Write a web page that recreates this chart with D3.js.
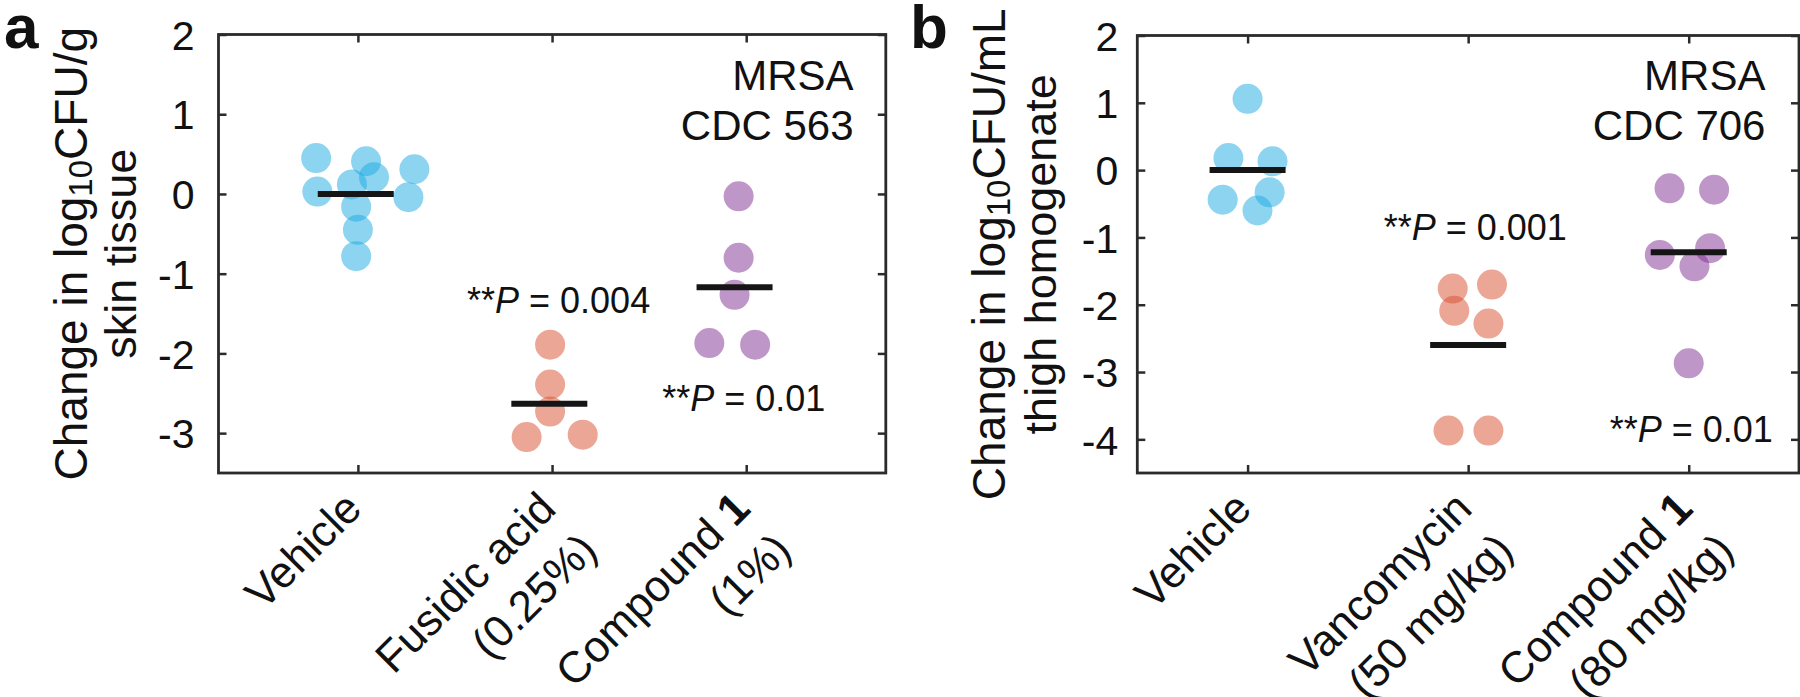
<!DOCTYPE html>
<html>
<head>
<meta charset="utf-8">
<script src="https://cdn.jsdelivr.net/npm/d3@7"></script>
<style>
  html, body { margin: 0; padding: 0; background: #fff; }
  svg { display: block; }
</style>
</head>
<body>
<svg id="chart" width="1800" height="697"></svg>
<script>
// ---------------- DATA ----------------
// Panel a: skin infection, MRSA CDC 563
const aCategories = [["Vehicle"], ["Fusidic acid", "(0.25%)"], ["Compound 1", "(1%)"]];
const aVehicle        = [0.45, 0.41, 0.31, 0.03, 0.12, 0.21, -0.04, -0.16, -0.45, -0.78];
const aVehicleJitter  = [-0.215, 0.042, 0.291, -0.209, -0.031, 0.083, 0.26, -0.009, 0, -0.009];
const aFusidic        = [-1.89, -2.39, -2.73, -3.05, -3.02];
const aFusidicJitter  = [-0.01, -0.01, -0.01, -0.131, 0.158];
const aCompound       = [-0.03, -0.80, -1.265, -1.87, -1.89];
const aCompoundJitter = [-0.039, -0.039, -0.06, -0.19, 0.046];
const aMeans          = [0, -2.63, -1.17];
const aMeanShift      = [-0.011, -0.014, -0.06];
const aYTicks         = [-3, -2, -1, 0, 1, 2];
const aPvalues        = ["0.004", "0.01"];
const aStrain         = ["MRSA", "CDC 563"];
const aYLabel         = ["Change in log", "10", "CFU/g", "skin tissue"];

// Panel b: thigh infection, MRSA CDC 706
const bCategories = [["Vehicle"], ["Vancomycin", "(50 mg/kg)"], ["Compound 1", "(80 mg/kg)"]];
const bVehicle        = [1.06, 0.18, 0.13, -0.44, -0.33, -0.60];
const bVehicleJitter  = [0, -0.087, 0.113, -0.113, 0.10, 0.045];
const bVanco          = [-1.76, -1.70, -2.09, -2.28, -3.87, -3.87];
const bVancoJitter    = [-0.07, 0.108, -0.063, 0.092, -0.089, 0.092];
const bCompound       = [-0.27, -0.29, -1.26, -1.16, -1.43, -2.87];
const bCompoundJitter = [-0.087, 0.115, -0.131, 0.097, 0.026, 0];
const bMeans          = [0, -2.60, -1.22];
const bMeanShift      = [0, 0, 0];
const bYTicks         = [-4, -3, -2, -1, 0, 1, 2];
const bPvalues        = ["0.001", "0.01"];
const bStrain         = ["MRSA", "CDC 706"];
const bYLabel         = ["Change in log", "10", "CFU/mL", "thigh homogenate"];

// ---------------- STYLE ----------------
const FONT = "'Liberation Sans', Arial, Helvetica, sans-serif";
const groupColors = ["rgb(27,170,225)", "rgb(215,78,45)", "rgb(128,45,145)"];
const dotOpacity = 0.5;
const dotR = 15;
const frameColor = "#2b2b2b";

const svg = d3.select("#chart");
svg.append("rect").attr("width", 1800).attr("height", 697).attr("fill", "#fff");

function drawPanel(cfg) {
  const g = svg.append("g");
  const x = d3.scaleLinear().domain(cfg.xDomain).range([cfg.left, cfg.right]);
  const y = d3.scaleLinear().domain(cfg.yDomain).range([cfg.bottom, cfg.top]);
  const cats = [1, 2, 3];

  // axes (ticks inward on all four sides)
  const axL = g.append("g").attr("transform", `translate(${cfg.left},0)`)
    .call(d3.axisLeft(y).tickValues(cfg.yTicks).tickSize(-8).tickPadding(cfg.tickPad).tickFormat(d => String(d)));
  const axR = g.append("g").attr("transform", `translate(${cfg.right},0)`)
    .call(d3.axisRight(y).tickValues(cfg.yTicks).tickSize(-8).tickFormat(""));
  const axB = g.append("g").attr("transform", `translate(0,${cfg.bottom})`)
    .call(d3.axisBottom(x).tickValues(cats).tickSize(-8).tickFormat(""));
  const axT = g.append("g").attr("transform", `translate(0,${cfg.top})`)
    .call(d3.axisTop(x).tickValues(cats).tickSize(-8).tickFormat(""));
  [axL, axR, axB, axT].forEach(a => {
    a.select(".domain").remove();
    a.selectAll(".tick line").attr("stroke", frameColor).attr("stroke-width", 2.5);
  });
  axL.selectAll(".tick text").attr("font-family", FONT).attr("font-size", 41)
    .attr("fill", "#111").attr("dy", "0.36em");

  // frame
  g.append("rect").attr("x", cfg.left).attr("y", cfg.top)
    .attr("width", cfg.right - cfg.left).attr("height", cfg.bottom - cfg.top)
    .attr("fill", "none").attr("stroke", frameColor).attr("stroke-width", 2.8);

  // dots
  cfg.groups.forEach((grp, i) => {
    g.append("g").selectAll("circle").data(grp.values).join("circle")
      .attr("cx", (d, j) => x(cats[i] + grp.jitter[j]))
      .attr("cy", d => y(d))
      .attr("r", dotR)
      .attr("fill", groupColors[i])
      .attr("fill-opacity", dotOpacity);
  });

  // mean bars
  g.append("g").selectAll("line").data(cfg.means).join("line")
    .attr("x1", (d, i) => x(cats[i] + cfg.meanShift[i]) - 38)
    .attr("x2", (d, i) => x(cats[i] + cfg.meanShift[i]) + 38)
    .attr("y1", d => y(d)).attr("y2", d => y(d))
    .attr("stroke", "#151515").attr("stroke-width", 6);

  // category labels (rotated 45°)
  cfg.categories.forEach((lines, i) => {
    const t = g.append("text")
      .attr("font-family", FONT).attr("font-size", 44).attr("fill", "#111")
      .attr("text-anchor", "end")
      .attr("transform", `translate(${x(cats[i]) + cfg.labDx},${cfg.bottom + 38}) rotate(-45)`);
    lines.forEach((ln, k) => {
      const ts = t.append("tspan").attr("x", 0).attr("y", k * 58);
      const m = ln.match(/^(Compound )(\d+)$/);
      if (m) {
        ts.append("tspan").text(m[1]);
        ts.append("tspan").attr("font-weight", "bold").text(m[2]);
      } else {
        ts.text(ln);
      }
    });
  });

  // y label (two lines, rotated)
  const yl = g.append("text")
    .attr("font-family", FONT).attr("font-size", 46).attr("fill", "#111")
    .attr("text-anchor", "middle")
    .attr("transform", `translate(${cfg.yLabX1},${(cfg.top + cfg.bottom) / 2}) rotate(-90)`);
  yl.append("tspan").text(cfg.yLabel[0]);
  yl.append("tspan").attr("font-size", 33).attr("dy", 5).text(cfg.yLabel[1]);
  yl.append("tspan").attr("dy", -5).text(cfg.yLabel[2]);
  g.append("text")
    .attr("font-family", FONT).attr("font-size", 45).attr("fill", "#111")
    .attr("text-anchor", "middle")
    .attr("transform", `translate(${cfg.yLabX2},${(cfg.top + cfg.bottom) / 2}) rotate(-90)`)
    .text(cfg.yLabel[3]);

  // strain text
  cfg.strain.forEach((s, k) => {
    g.append("text").attr("font-family", FONT).attr("font-size", 42).attr("fill", "#111")
      .attr("text-anchor", "end")
      .attr("x", x(cfg.strainPos[0])).attr("y", y(cfg.strainPos[1 + k]))
      .text(s);
  });

  // p-value annotations
  cfg.pvals.forEach((p, k) => {
    const pos = cfg.pPos[k];
    const t = g.append("text").attr("font-family", FONT).attr("font-size", 36).attr("fill", "#111")
      .attr("x", x(pos[0])).attr("y", y(pos[1]));
    t.append("tspan").text("**");
    t.append("tspan").attr("font-style", "italic").text("P");
    t.append("tspan").text(" = " + p);
  });

  // panel letter
  svg.append("text").attr("font-family", FONT).attr("font-size", 62).attr("font-weight", "bold")
    .attr("fill", "#111").attr("x", cfg.letterX).attr("y", 48).text(cfg.letter);
}

drawPanel({
  letter: "a", letterX: 4,
  left: 218.5, right: 885.8, top: 34.5, bottom: 473,
  xDomain: [0.282, 3.719], yDomain: [-3.5, 2], yTicks: aYTicks, tickPad: 24,
  groups: [
    { values: aVehicle, jitter: aVehicleJitter },
    { values: aFusidic, jitter: aFusidicJitter },
    { values: aCompound, jitter: aCompoundJitter }
  ],
  means: aMeans, meanShift: aMeanShift,
  categories: aCategories, labDx: 6,
  yLabel: aYLabel, yLabX1: 87, yLabX2: 136,
  strain: aStrain, strainPos: [3.553, 1.31, 0.68],
  pvals: aPvalues, pPos: [[1.562, -1.495], [2.567, -2.72]]
});

drawPanel({
  letter: "b", letterX: 910,
  left: 1137.3, right: 1799, top: 35.5, bottom: 473,
  xDomain: [0.5, 3.5], yDomain: [-4.5, 2], yTicks: bYTicks, tickPad: 19,
  groups: [
    { values: bVehicle, jitter: bVehicleJitter },
    { values: bVanco, jitter: bVancoJitter },
    { values: bCompound, jitter: bCompoundJitter }
  ],
  means: bMeans, meanShift: bMeanShift,
  categories: bCategories, labDx: 6,
  yLabel: bYLabel, yLabX1: 1005, yLabX2: 1056,
  strain: bStrain, strainPos: [3.348, 1.194, 0.442],
  pvals: bPvalues, pPos: [[1.617, -1.04], [2.642, -4.043]]
});
</script>
</body>
</html>
